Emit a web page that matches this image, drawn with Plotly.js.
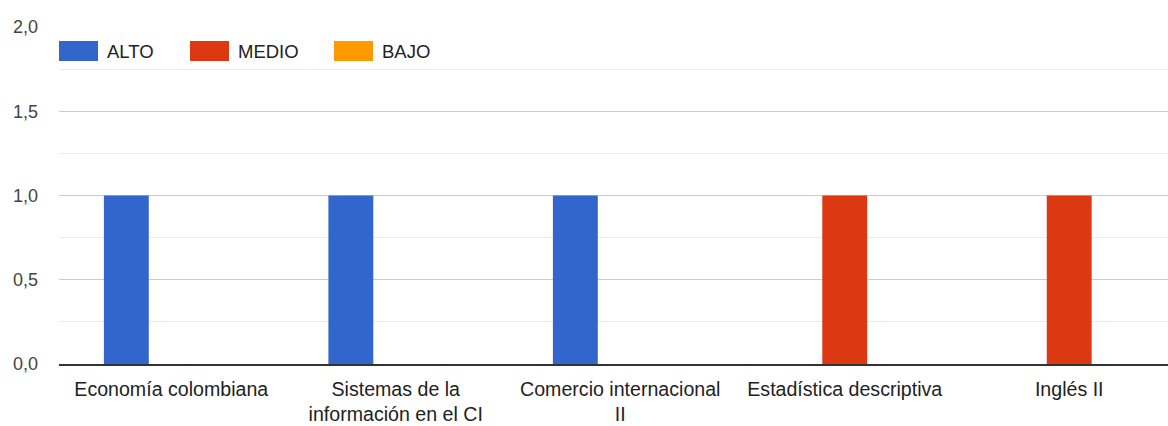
<!DOCTYPE html>
<html>
<head>
<meta charset="utf-8">
<script src="https://cdn.plot.ly/plotly-3.0.1.min.js"></script>
<style>
  html, body { margin: 0; padding: 0; background: #fff; }
  #graph { width: 1168px; height: 426px; }
</style>
</head>
<body>
<div id="graph"></div>
<script>
const categories = [
    'Economía colombiana',
    'Sistemas de la<br>información en el CI',
    'Comercio internacional<br>II',
    'Estadística descriptiva',
    'Inglés II'
];
const seriesNames = ['ALTO', 'MEDIO', 'BAJO'];
const altoValues = [1, 1, 1, 0, 0];
const medioValues = [0, 0, 0, 1, 1];
const bajoValues = [0, 0, 0, 0, 0];
const seriesColors = ['#3366cc', '#dc3912', '#ff9900'];
const yTickValues = [0, 0.5, 1, 1.5, 2];

// legend item pixel offsets from the left of the plot
const legendOffsets = [0, 131, 275];

document.addEventListener('DOMContentLoaded', function() {
    const font = '"Liberation Sans", Arial, sans-serif';
    const values = [altoValues, medioValues, bajoValues];

    const traces = seriesNames.map(function(name, i) {
        return {
            type: 'bar',
            name: name,
            x: categories,
            y: values[i],
            marker: { color: seriesColors[i] },
            hoverinfo: 'x+y+name'
        };
    });

    const shapes = [];
    const annotations = [];
    seriesNames.forEach(function(name, i) {
        const off = legendOffsets[i];
        shapes.push({
            type: 'rect',
            xref: 'paper', yref: 'paper',
            xsizemode: 'pixel', ysizemode: 'pixel',
            xanchor: 0, yanchor: 1,
            x0: off, x1: off + 39,
            y0: -14, y1: -34,
            fillcolor: seriesColors[i],
            line: { width: 0 }
        });
        annotations.push({
            xref: 'paper', yref: 'paper',
            x: 0, y: 1,
            xanchor: 'left', yanchor: 'middle',
            xshift: off + 46, yshift: -24,
            text: name,
            showarrow: false,
            font: { family: font, size: 18.5, color: '#222' }
        });
    });

    const layout = {
        width: 1168,
        height: 426,
        margin: { l: 59, r: 0, t: 27, b: 62 },
        paper_bgcolor: '#fff',
        plot_bgcolor: '#fff',
        separators: ',.',
        showlegend: false,
        barmode: 'group',
        bargap: 0.4,
        bargroupgap: 0,
        font: { family: font, size: 18, color: '#444' },
        xaxis: {
            type: 'category',
            range: [-0.5, 4.44],
            showgrid: false,
            showline: true,
            linecolor: '#333',
            linewidth: 2,
            ticks: '',
            ticklabelstandoff: 6,
            tickfont: { family: font, size: 19.6, color: '#222' },
            fixedrange: true
        },
        yaxis: {
            range: [0, 2],
            tickvals: yTickValues,
            tickformat: '.1f',
            gridcolor: '#cccccc',
            gridwidth: 1,
            zeroline: false,
            ticks: '',
            ticklabelstandoff: 20,
            tickfont: { family: font, size: 18, color: '#444' },
            minor: { dtick: 0.25, showgrid: true, gridcolor: '#ebebeb', gridwidth: 1 },
            fixedrange: true
        },
        shapes: shapes,
        annotations: annotations
    };

    Plotly.newPlot('graph', traces, layout, { displayModeBar: false, staticPlot: true });
});
</script>
</body>
</html>
